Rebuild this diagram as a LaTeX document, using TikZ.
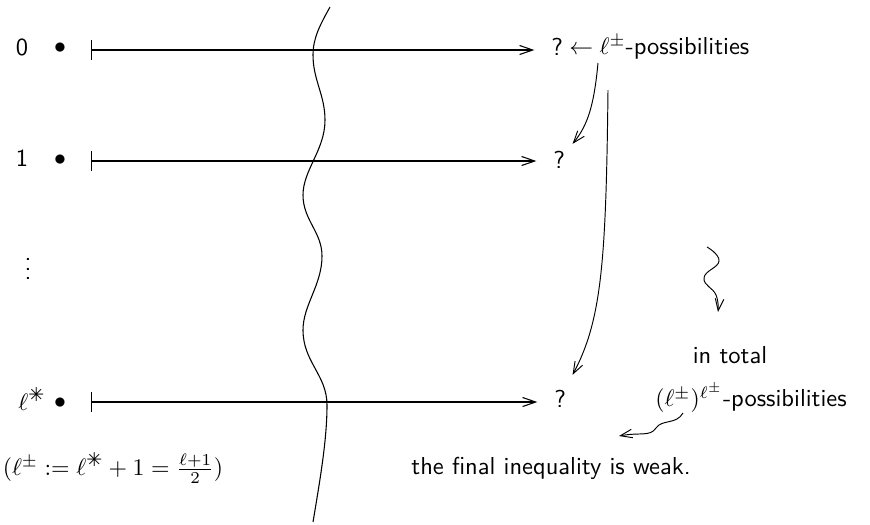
\documentclass[tikz,border=0pt]{standalone}
\usepackage{fontspec}
\newfontfamily\dejavu{DejaVu Sans}
\usetikzlibrary{arrows.meta}
\newcommand{\lstarsym}{\ell^{\mbox{\dejavu\footnotesize ✳}}}
\tikzset{
  hline/.style={line width=0.45pt, {Bar[width=8pt]}-{Straight Barb[length=5.5pt,width=3.8pt]}, shorten >=7pt},
  curvearrow/.style={line width=0.4pt, -{Straight Barb[length=5pt,width=3.6pt]}},
  lbl/.style={font=\sffamily\fontsize{10.3pt}{12pt}\selectfont, inner sep=0pt}
}
\begin{document}
\begin{tikzpicture}[x=0.42pt,y=-0.42pt]
\useasboundingbox (0,0) rectangle (870,524);
% left column
\node[lbl] (n0) at (22,47) {0};
\node[lbl] (b0) at (60,48) {$\bullet$};
\node[lbl] (n1) at (22,158) {1};
\node[lbl] (b1) at (60,160) {$\bullet$};
\node[lbl] (vd) at (28,262) {$\vdots$};
\node[lbl] (ns) at (32,399) {$\lstarsym$};
\node[lbl] (bs) at (60,403) {$\bullet$};
\coordinate (s0) at (91,50);
\coordinate (s1) at (91,161);
\coordinate (ss) at (91,402);
% question marks
\node[lbl, anchor=west] (q0) at (551,47) {?};
\node[lbl, anchor=west] (q1) at (553,160) {?};
\node[lbl, anchor=west] (q2) at (554,399) {?};
\node[lbl, anchor=west] (p0) at ([xshift=2.2pt]q0.east) {$\leftarrow\ell^{\pm}$-possibilities};
% horizontal arrows
\draw[hline] (s0) -- (s0 -| q0.west);
\draw[hline] (s1) -- (s1 -| q1.west);
\draw[hline] (ss) -- (ss -| q2.west);
% wavy line
\draw[line width=0.45pt] (330,7) .. controls (320,25) and (313,38) .. (313,55)
  .. controls (313,80) and (325,95) .. (325,120)
  .. controls (325,150) and (303,170) .. (303,195)
  .. controls (303,220) and (322,232) .. (322,256)
  .. controls (322,285) and (303,305) .. (303,330)
  .. controls (303,362) and (327,375) .. (327,405)
  .. controls (327,440) and (320,480) .. (313,522);
% curved arrows
\coordinate (c0) at (598,63);
\draw[curvearrow] (c0) .. controls (594,105) and (588,125) .. ([shift={(7,-7)}]q1.north east);
\coordinate (c1) at (608,90);
\draw[curvearrow] (c1) .. controls (606,260) and (602,320) .. ([shift={(6,-15)}]q2.north east);
% squiggle
\node[lbl] (tot) at (730,355) {in total};
\draw[curvearrow] plot[smooth, tension=0.8] coordinates {(707,247) (719,261) (704,278) (716,295) (718,312)};
\node[lbl] (pp) at (751,398) {$(\ell^{\pm})^{\ell^{\pm}}$-possibilities};
% snake
\coordinate (c2) at (683,413);
\draw[curvearrow] (c2) .. controls (676,425) and (662,419) .. (656,428) .. controls (650,437) and (640,432) .. (619,436);
% bottom
\node[lbl] (def) at (113,468) {$(\ell^{\pm} \mathrel{:=} \lstarsym + 1 = \frac{\ell+1}{2})$};
\node[lbl] (fin) at (551,468) {the final inequality is weak.};
\end{tikzpicture}
\end{document}
